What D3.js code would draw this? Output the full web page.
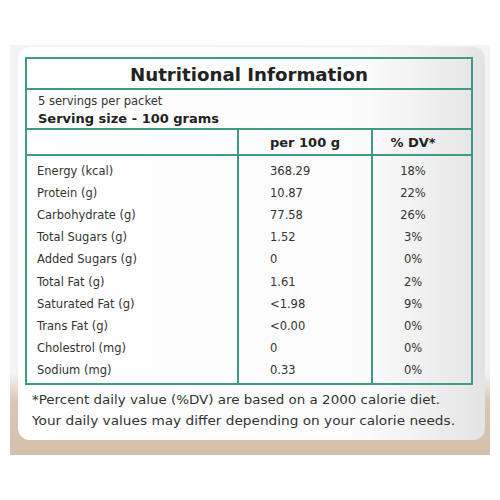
<!DOCTYPE html>
<html><head><meta charset="utf-8">
<script src="https://cdn.jsdelivr.net/npm/d3@7"></script>
<style>body{margin:0;background:#fff}svg{display:block}</style>
</head><body>
<script>
const nutrients = ["Energy (kcal)","Protein (g)","Carbohydrate (g)","Total Sugars (g)","Added Sugars (g)","Total Fat (g)","Saturated Fat (g)","Trans Fat (g)","Cholestrol (mg)","Sodium (mg)"];
const per100g = ["368.29","10.87","77.58","1.52","0","1.61","<1.98","<0.00","0","0.33"];
const dv = ["18%","22%","26%","3%","0%","2%","9%","0%","0%","0%"];
const title = "Nutritional Information";
const servingLines = ["5 servings per packet","Serving size - 100 grams"];
const headers = ["per 100 g","% DV*"];
const footnotes = ["*Percent daily value (%DV) are based on a 2000 calorie diet.","Your daily values may differ depending on your calorie needs."];

const W=500,H=500, teal="#3f9a86", font="'DejaVu Sans', Verdana, sans-serif";
const svg=d3.select("body").append("svg").attr("width",W).attr("height",H);
const defs=svg.append("defs");
const g1=defs.append("linearGradient").attr("id","bg").attr("x1",0).attr("x2",0).attr("y1",0).attr("y2",1);
g1.append("stop").attr("offset","0.8").attr("stop-color","#f4f4f4");
g1.append("stop").attr("offset","0.87").attr("stop-color","#dcc6b3");
g1.append("stop").attr("offset","1").attr("stop-color","#d6bfaa");
const g2=defs.append("linearGradient").attr("id","card").attr("x1",0).attr("x2",1);
g2.append("stop").attr("offset","0").attr("stop-color","#ffffff");
g2.append("stop").attr("offset","0.75").attr("stop-color","#fbfbfb");
g2.append("stop").attr("offset","1").attr("stop-color","#e4e4e4");
svg.append("rect").attr("x",10).attr("y",45).attr("width",480).attr("height",410).attr("fill","url(#bg)");
svg.append("rect").attr("x",18).attr("y",47).attr("width",467).attr("height",393).attr("rx",12).attr("fill","url(#card)");

const L=26,R=472,c1=238,c2=372;
const y=d3.scaleBand().domain(nutrients).range([160,381]);
const x=d3.scaleOrdinal().domain(["label","val","dv"]).range([37,270,413]);
const tb=svg.append("g").attr("fill","none").attr("stroke",teal).attr("stroke-width",2);
tb.append("rect").attr("x",L).attr("y",58).attr("width",R-L).attr("height",326);
[89,129,155].forEach(v=>tb.append("line").attr("x1",L).attr("x2",R).attr("y1",v).attr("y2",v));
[c1,c2].forEach(v=>tb.append("line").attr("x1",v).attr("x2",v).attr("y1",129).attr("y2",384));

const t=svg.append("g").attr("font-family",font).attr("fill","#222");
t.append("text").attr("x",249).attr("y",81).attr("text-anchor","middle").attr("font-size",18).attr("font-weight",700).attr("textLength",238).attr("lengthAdjust","spacingAndGlyphs").text(title);
t.append("text").attr("x",38).attr("y",105).attr("font-size",11.5).attr("fill","#333").text(servingLines[0]);
t.append("text").attr("x",38).attr("y",123).attr("font-size",13).attr("font-weight",700).text(servingLines[1]);
t.append("text").attr("x",305).attr("y",147).attr("text-anchor","middle").attr("font-size",13).attr("font-weight",700).text(headers[0]);
t.append("text").attr("x",413).attr("y",147).attr("text-anchor","middle").attr("font-size",13).attr("font-weight",700).text(headers[1]);
const rows=t.selectAll("g.r").data(nutrients).join("g").attr("font-size",11.5).attr("fill","#333")
  .attr("transform",d=>`translate(0,${y(d)+y.bandwidth()/2+4})`);
rows.append("text").attr("x",x("label")).text(d=>d);
rows.append("text").attr("x",x("val")).text((d,i)=>per100g[i]);
rows.append("text").attr("x",x("dv")).attr("text-anchor","middle").text((d,i)=>dv[i]);
footnotes.forEach((f,i)=>t.append("text").attr("x",32).attr("y",404+i*21).attr("font-size",11.5).attr("fill","#333").attr("textLength",i?423:408).attr("lengthAdjust","spacingAndGlyphs").text(f));
</script>
</body></html>
